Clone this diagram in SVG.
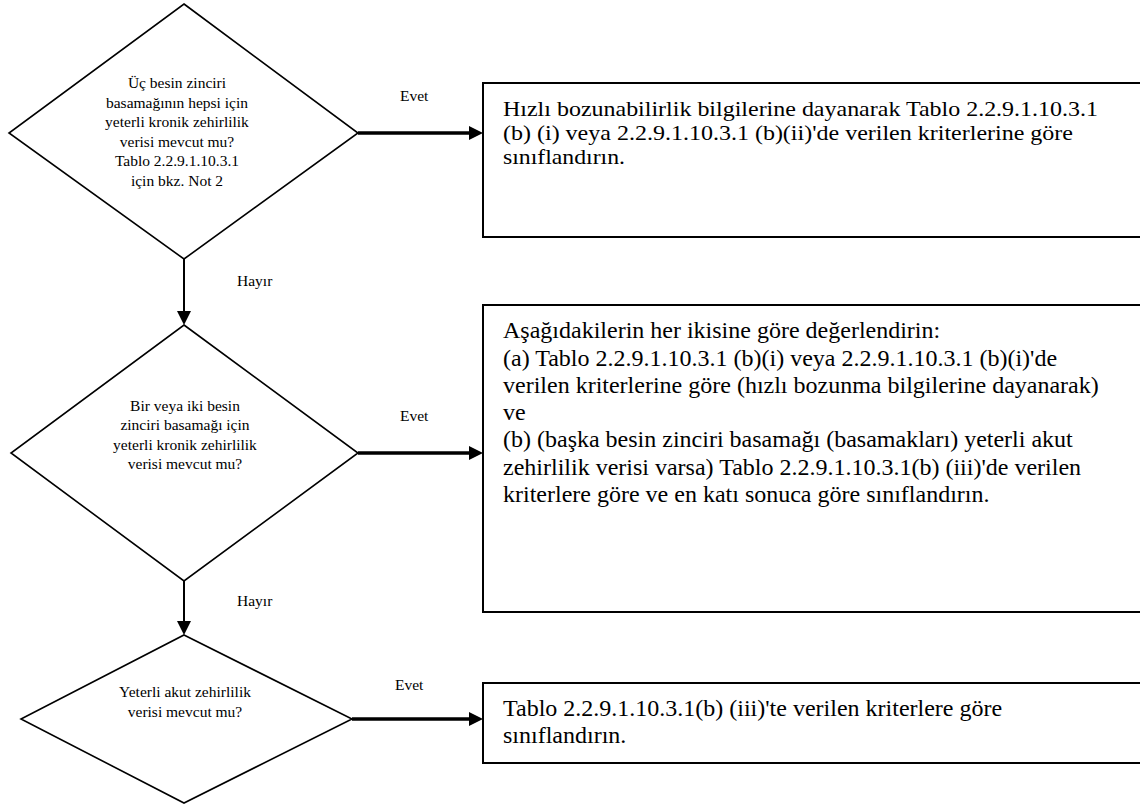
<svg xmlns="http://www.w3.org/2000/svg" width="1140" height="805" viewBox="0 0 1140 805">
<style>
  .bg{fill:#ffffff}
  .dia{fill:#ffffff;stroke:#000000;stroke-width:1.6}
  .box{fill:#ffffff;stroke:#000000;stroke-width:2}
  .dt{font-family:"Liberation Serif","Times New Roman",serif;font-size:15.5px;fill:#000;text-anchor:middle}
  .bt{font-family:"Liberation Serif","Times New Roman",serif;font-size:24px;fill:#000}
  .bt1{font-family:"Liberation Serif","Times New Roman",serif;font-size:21.5px;fill:#000}
  .lbl{font-family:"Liberation Serif","Times New Roman",serif;font-size:15.5px;fill:#000}
  .h{stroke:#000;stroke-width:3.5;fill:none}
  .v{stroke:#000;stroke-width:2;fill:none}
</style>
<defs>
  <marker id="ah" markerUnits="userSpaceOnUse" viewBox="0 0 14 14" refX="0" refY="7" markerWidth="14" markerHeight="14" orient="auto">
    <path d="M0,0 L14,7 L0,14 z" fill="#000"/>
  </marker>
</defs>
<rect class="bg" x="0" y="0" width="1140" height="805"/>

<g id="connectors">
  <line class="h" x1="358" y1="133" x2="469" y2="133" marker-end="url(#ah)"/>
  <line class="h" x1="358" y1="453" x2="469" y2="453" marker-end="url(#ah)"/>
  <line class="h" x1="352" y1="719" x2="469" y2="719" marker-end="url(#ah)"/>
  <line class="v" x1="184" y1="259" x2="184" y2="311" marker-end="url(#ah)"/>
  <line class="v" x1="184" y1="581" x2="184" y2="621" marker-end="url(#ah)"/>
  <text class="lbl" x="400" y="101">Evet</text>
  <text class="lbl" x="400" y="421">Evet</text>
  <text class="lbl" x="395" y="690">Evet</text>
  <text class="lbl" x="237" y="286">Hayır</text>
  <text class="lbl" x="237" y="606">Hayır</text>
</g>

<g id="q1">
  <polygon class="dia" points="184,4 358,133 184,259 9,133"/>
  <text class="dt" x="177" y="88">Üç besin zinciri</text>
  <text class="dt" x="177" y="107.5">basamağının hepsi için</text>
  <text class="dt" x="177" y="127">yeterli kronik zehirlilik</text>
  <text class="dt" x="177" y="146.5">verisi mevcut mu?</text>
  <text class="dt" x="177" y="166">Tablo 2.2.9.1.10.3.1</text>
  <text class="dt" x="177" y="185.5">için bkz. Not 2</text>
</g>

<g id="q2">
  <polygon class="dia" points="184,325 358,453 184,581 11,453"/>
  <text class="dt" x="185" y="410.5">Bir veya iki besin</text>
  <text class="dt" x="185" y="430">zinciri basamağı için</text>
  <text class="dt" x="185" y="449.5">yeterli kronik zehirlilik</text>
  <text class="dt" x="185" y="469">verisi mevcut mu?</text>
</g>

<g id="q3">
  <polygon class="dia" points="184,635 352,719 184,803 21,719"/>
  <text class="dt" x="185" y="697">Yeterli akut zehirlilik</text>
  <text class="dt" x="185" y="716.5">verisi mevcut mu?</text>
</g>

<g id="r1">
  <rect class="box" x="483" y="83" width="670" height="154"/>
  <text class="bt1" x="503" y="116" textLength="595" lengthAdjust="spacingAndGlyphs">Hızlı bozunabilirlik bilgilerine dayanarak Tablo 2.2.9.1.10.3.1</text>
  <text class="bt1" x="503" y="140" textLength="570" lengthAdjust="spacingAndGlyphs">(b) (i) veya 2.2.9.1.10.3.1 (b)(ii)'de verilen kriterlerine göre</text>
  <text class="bt1" x="503" y="164" textLength="122" lengthAdjust="spacingAndGlyphs">sınıflandırın.</text>
</g>

<g id="r2">
  <rect class="box" x="483" y="305" width="670" height="307"/>
  <text class="bt" x="503" y="338">Aşağıdakilerin her ikisine göre değerlendirin:</text>
  <text class="bt" x="503" y="365.5">(a) Tablo 2.2.9.1.10.3.1 (b)(i) veya 2.2.9.1.10.3.1 (b)(i)'de</text>
  <text class="bt" x="503" y="393">verilen kriterlerine göre (hızlı bozunma bilgilerine dayanarak)</text>
  <text class="bt" x="503" y="420">ve</text>
  <text class="bt" x="503" y="447">(b) (başka besin zinciri basamağı (basamakları) yeterli akut</text>
  <text class="bt" x="503" y="475">zehirlilik verisi varsa) Tablo 2.2.9.1.10.3.1(b) (iii)'de verilen</text>
  <text class="bt" x="503" y="502">kriterlere göre ve en katı sonuca göre sınıflandırın.</text>
</g>

<g id="r3">
  <rect class="box" x="483" y="683" width="670" height="80"/>
  <text class="bt" x="503" y="716">Tablo 2.2.9.1.10.3.1(b) (iii)'te verilen kriterlere göre</text>
  <text class="bt" x="503" y="743">sınıflandırın.</text>
</g>
</svg>
